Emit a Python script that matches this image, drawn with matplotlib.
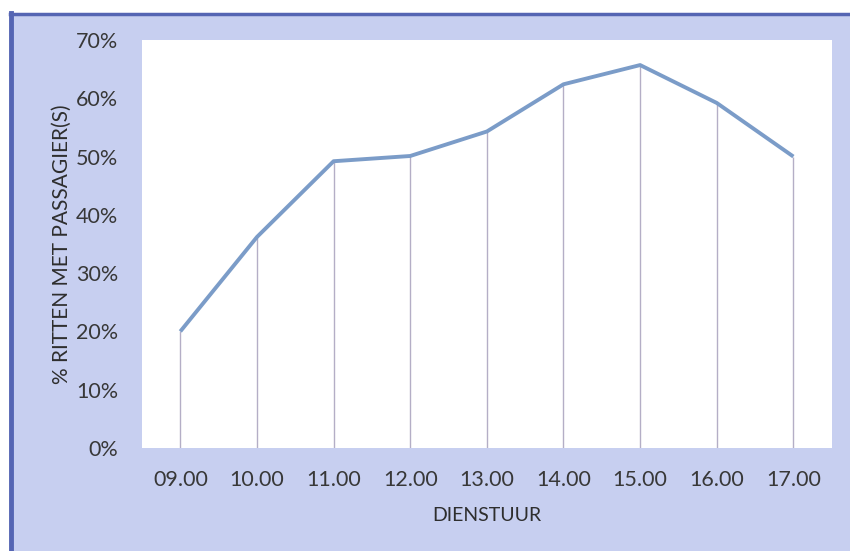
import matplotlib
matplotlib.use("Agg")
import matplotlib.pyplot as plt
from matplotlib.patches import Rectangle
from matplotlib.lines import Line2D

hours = ["09.00", "10.00", "11.00", "12.00", "13.00", "14.00", "15.00", "16.00", "17.00"]
pct_with_passenger = [20.0, 36.2, 49.2, 50.1, 54.3, 62.4, 65.7, 59.2, 50.0]
y_ticks = [0, 10, 20, 30, 40, 50, 60, 70]
y_tick_labels = ["0%", "10%", "20%", "30%", "40%", "50%", "60%", "70%"]

plt.rcParams['font.family'] = ['Lato', 'DejaVu Sans']

W, H = 850, 551
fig = plt.figure(figsize=(W / 100, H / 100), dpi=100)
fig.patch.set_facecolor("white")

bg = "#c7cff0"
border = "#5565b3"
# lavender background (cropped scan: only left and top border visible)
fig.patches.append(Rectangle((11 / W, 0), 1 - 11 / W, (H - 14) / H,
                             transform=fig.transFigure, facecolor=bg,
                             edgecolor="none", zorder=0))
fig.lines.append(Line2D([11 / W, 11 / W], [0, (H - 13) / H], transform=fig.transFigure,
                        color=border, linewidth=3.5, zorder=1))
fig.lines.append(Line2D([9.5 / W, 1], [(H - 14) / H, (H - 14) / H], transform=fig.transFigure,
                        color=border, linewidth=2.5, zorder=1))

ax = fig.add_axes([142 / W, (H - 448) / H, (831.7 - 142) / W, (448 - 40) / H])
ax.set_zorder(5)
ax.set_facecolor("white")
x = list(range(len(hours)))
ax.vlines(x, 0, pct_with_passenger, colors="#b4aec6", linewidth=1.0, zorder=2)
ax.plot(x, pct_with_passenger, color="#7b9cc8", linewidth=2.8, zorder=3,
        solid_joinstyle="round", solid_capstyle="butt")

ax.set_xlim(-0.5, len(hours) - 0.5)
ax.set_ylim(0, 70)
ax.set_xticks(x)
ax.set_xticklabels(hours)
ax.set_yticks(y_ticks)
ax.set_yticklabels(y_tick_labels)
for s in ax.spines.values():
    s.set_visible(False)
ax.tick_params(axis="both", length=0, labelsize=15.5, labelcolor="#383838")
ax.tick_params(axis="y", pad=17)
ax.tick_params(axis="x", pad=16)

ax.set_xlabel("DIENSTUUR", fontsize=14, color="#2e2e2e", labelpad=12)
ax.set_ylabel("% RITTEN MET PASSAGIER(S)", fontsize=15, color="#2e2e2e", labelpad=3)
ax.yaxis.set_label_coords(ax.yaxis.label.get_position()[0], 0.52) if False else None

fig.savefig("out.png", dpi=100, facecolor=fig.get_facecolor())
